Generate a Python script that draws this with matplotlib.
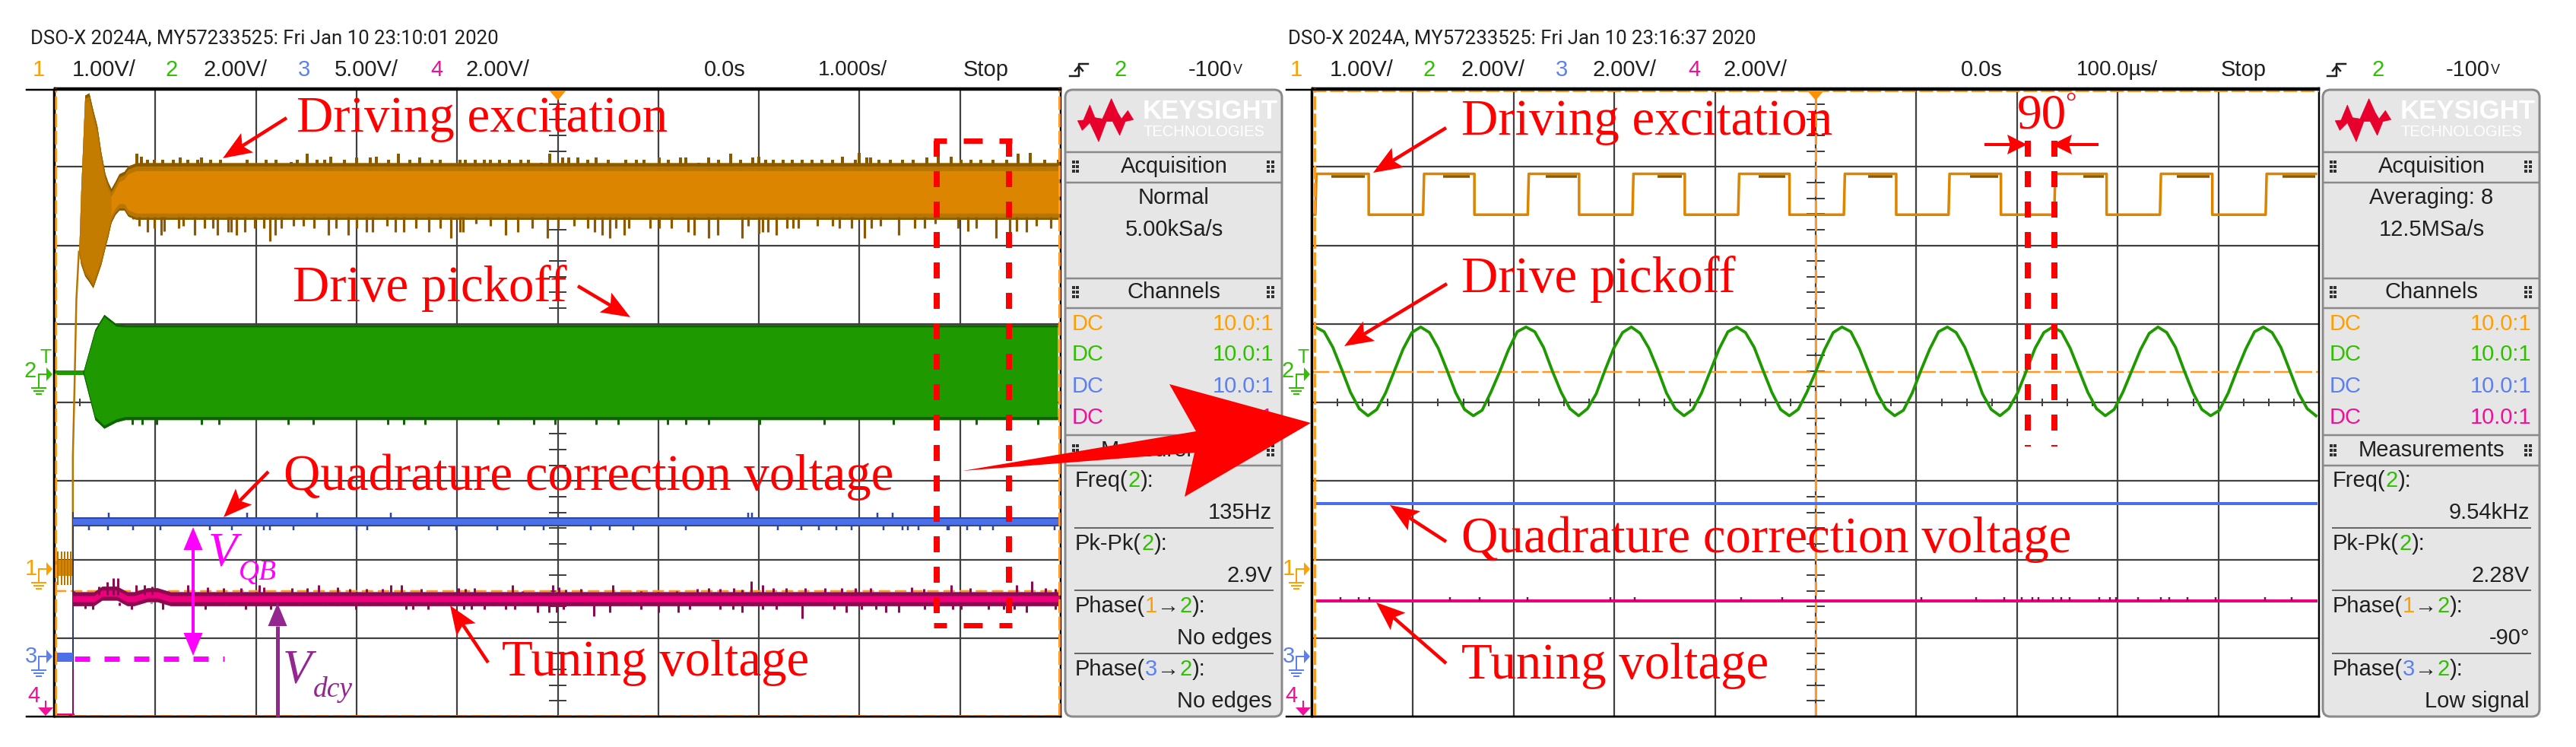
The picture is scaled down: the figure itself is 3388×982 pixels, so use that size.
import numpy as np
import matplotlib

matplotlib.use('Agg')
import matplotlib.pyplot as plt
from matplotlib.patches import FancyBboxPatch, Polygon

# --- left capture: time in s (1 s/div), level in divisions above the bottom edge ---
ch1_env_t = [-4.76, -4.74, -4.70, -4.66, -4.62, -4.58, -4.54, -4.50, -4.47, -4.44, -4.40, -4.36, -4.31, -4.27, -4.19, 0.0, 4.99]
ch1_env_top = [5.92, 6.70, 7.91, 7.94, 7.72, 7.52, 7.18, 6.91, 6.80, 6.72, 6.81, 6.91, 6.94, 7.01, 7.05, 7.05, 7.05]
ch1_env_bot = [5.92, 5.76, 5.61, 5.54, 5.46, 5.61, 5.76, 5.97, 6.12, 6.29, 6.39, 6.45, 6.45, 6.37, 6.33, 6.33, 6.33]
ch1_rise_t = [-4.82, -4.82, -4.805, -4.785, -4.76]
ch1_rise_v = [1.96, 3.31, 4.11, 5.31, 5.92]

ch1_up_t = [-4.18, -4.14, -4.08, -4.01, -3.93, -3.82, -3.75, -3.68, -3.58, -3.54, -3.45, -3.35, -3.09, -2.90, -2.80,
            -2.65, -2.59, -2.49, -2.39, -2.32, -2.26, -2.12, -2.00, -1.86, -1.80, -1.68, -1.58, -1.47, -1.37, -1.25,
            -1.17, -0.97, -0.92, -0.82, -0.73, -0.67, -0.58, -0.48, -0.37, -0.29, -0.16, -0.08, 0.05, 0.11, 0.20,
            0.30, 0.38, 0.50, 0.68, 0.78, 0.86, 1.01, 1.10, 1.22, 1.27, 1.40, 1.50, 1.60, 1.72, 1.82,
            1.94, 2.00, 2.07, 2.14, 2.24, 2.33, 2.43, 2.53, 2.63, 2.73, 2.83, 2.96, 3.00, 3.07, 3.11,
            3.19, 3.31, 3.43, 3.53, 3.67, 3.78, 3.91, 4.01, 4.11, 4.21, 4.33, 4.46, 4.58, 4.70, 4.84, 4.98]
ch1_up_v = [7.17, 7.13, 7.09, 7.09, 7.09, 7.09, 7.12, 7.09, 7.09, 7.12, 7.09, 7.09, 7.09, 7.09, 7.09,
            7.06, 7.09, 7.17, 7.09, 7.09, 7.13, 7.09, 7.12, 7.12, 7.13, 7.09, 7.17, 7.09, 7.12, 7.09,
            7.09, 7.09, 7.09, 7.09, 7.09, 7.09, 7.09, 7.09, 7.09, 7.09, 7.05, 7.17, 7.12, 7.12, 7.12,
            7.09, 7.12, 7.09, 7.09, 7.09, 7.09, 7.12, 7.09, 7.12, 7.12, 7.05, 7.12, 7.09, 7.17, 7.09,
            7.12, 7.13, 7.09, 7.09, 7.09, 7.09, 7.09, 7.09, 7.09, 7.09, 7.13, 7.09, 7.18, 7.12, 7.12,
            7.09, 7.09, 7.09, 7.09, 7.12, 7.17, 7.13, 7.09, 7.09, 7.09, 7.09, 7.09, 7.17, 7.18, 7.09, 7.09]
ch1_down_t = [-4.22, -4.16, -4.08, -4.01, -3.94, -3.91, -3.77, -3.72, -3.61, -3.51, -3.43, -3.38, -3.28, -3.25, -3.19,
              -3.11, -3.01, -2.92, -2.86, -2.81, -2.75, -2.63, -2.53, -2.42, -2.28, -2.20, -2.08, -2.00, -1.90, -1.84,
              -1.70, -1.61, -1.53, -1.41, -1.28, -1.17, -1.06, -0.97, -0.94, -0.81, -0.67, -0.52, -0.40, -0.25, -0.10,
              0.00, 0.16, 0.30, 0.37, 0.44, 0.52, 0.58, 0.66, 0.71, 0.92, 1.01, 1.13, 1.30, 1.36, 1.50,
              1.59, 1.83, 1.89, 2.00, 2.04, 2.09, 2.17, 2.28, 2.34, 2.39, 2.58, 2.73, 2.80, 2.92, 3.05,
              3.12, 3.21, 3.39, 3.55, 3.65, 3.75, 3.98, 4.08, 4.16, 4.36, 4.49, 4.56, 4.66, 4.76, 4.90]
ch1_down_v = [6.33, 6.25, 6.17, 6.22, 6.13, 6.18, 6.22, 6.25, 6.13, 6.22, 6.22, 6.13, 6.17, 6.17, 6.13,
              6.17, 6.22, 6.22, 6.05, 6.13, 6.22, 6.25, 6.25, 6.22, 6.13, 6.22, 6.13, 6.22, 6.17, 6.17,
              6.25, 6.17, 6.17, 6.22, 6.17, 6.22, 6.09, 6.17, 6.17, 6.28, 6.25, 6.13, 6.17, 6.22, 6.09,
              6.22, 6.25, 6.22, 6.17, 6.13, 6.09, 6.22, 6.13, 6.22, 6.22, 6.22, 6.22, 6.17, 6.13, 6.09,
              6.13, 6.09, 6.25, 6.15, 6.17, 6.17, 6.13, 6.22, 6.22, 6.22, 6.25, 6.25, 6.22, 6.22, 6.09,
              6.22, 6.25, 6.13, 6.22, 6.22, 6.28, 6.22, 6.18, 6.22, 6.09, 6.05, 6.18, 6.17, 6.25, 6.22]

ch2_env_t = [-4.72, -4.60, -4.51, -4.39, -4.30, 4.97]
ch2_env_top = [4.38, 4.93, 5.12, 5.00, 4.99, 4.99]
ch2_env_bot = [4.38, 3.78, 3.67, 3.75, 3.78, 3.78]
ch2_down_t = [-4.23, -4.13, -3.99, -3.54, -3.37, -2.68, -2.43, -1.69, -1.53, -1.32, -0.59, -0.24, -0.03, 0.38, 0.60,
              1.09, 1.27, 1.50, 2.01, 2.65, 3.34, 4.16, 4.49, 4.77]

ch3_level = 2.48
ch3_down_t = [-4.66, -4.47, -4.22, -3.95, -3.46, -3.24, -2.92, -2.86, -2.63, -2.00, -1.89, -1.28, -1.01, -0.60, -0.33,
              -0.14, 0.33, 0.52, 0.75, 1.27, 2.19, 2.42, 2.60, 2.77, 2.92, 3.24, 3.43, 3.48, 3.59, 3.87,
              3.89, 4.07, 4.20, 4.33, 4.94]
ch3_up_t = [-4.46, -3.09, -2.39, -1.66, 1.89, 1.93, 3.18, 3.33]

ch4_mid_t = [-4.82, -4.61, -4.53, -4.38, -4.28, -4.21, -4.08, -3.98, -3.85, 4.99]
ch4_mid_v = [1.50, 1.50, 1.57, 1.57, 1.50, 1.50, 1.55, 1.55, 1.50, 1.50]
ch4_up_t = [-4.81, -4.56, -4.48, -4.42, -4.37, -4.19, -4.11, -4.03, -3.68, -3.48, -3.32, -3.15, -2.97, -2.92, -2.64,
            -2.49, -2.38, -2.19, -2.07, -1.90, -1.74, -1.66, -1.55, -1.36, -0.99, -0.92, -0.83, -0.45, -0.35, -0.05,
            0.01, 0.08, 0.23, 0.55, 0.83, 1.18, 1.39, 1.50, 1.61, 1.75, 1.83, 1.92, 2.04, 2.14, 2.27,
            2.46, 2.66, 2.82, 2.96, 3.11, 3.52, 3.64, 3.91, 4.10, 4.56, 4.71, 4.85, 4.95]
ch4_up_v = [1.60, 1.66, 1.71, 1.76, 1.76, 1.68, 1.68, 1.66, 1.68, 1.65, 1.64, 1.64, 1.68, 1.65, 1.64,
            1.64, 1.68, 1.65, 1.63, 1.63, 1.63, 1.68, 1.68, 1.63, 1.64, 1.63, 1.64, 1.68, 1.60, 1.68,
            1.65, 1.62, 1.63, 1.68, 1.60, 1.60, 1.63, 1.64, 1.63, 1.64, 1.62, 1.72, 1.68, 1.64, 1.64,
            1.64, 1.64, 1.64, 1.64, 1.64, 1.65, 1.63, 1.68, 1.64, 1.68, 1.72, 1.64, 1.63]
ch4_down_t = [-4.80, -4.70, -4.62, -4.36, -4.24, -4.04, -3.93, -3.55, -3.50, -3.26, -3.10, -2.85, -2.78, -2.54, -2.32,
              -2.19, -2.01, -1.86, -1.72, -1.51, -1.44, -1.29, -1.06, -0.93, -0.86, -0.73, -0.64, -0.52, -0.43, -0.20,
              -0.09, -0.01, 0.06, 0.36, 0.52, 0.73, 0.83, 1.00, 1.20, 1.31, 1.61, 1.74, 1.83, 1.93, 2.04,
              2.17, 2.43, 2.75, 2.87, 3.02, 3.16, 3.26, 3.39, 3.65, 3.93, 4.01, 4.28, 4.43, 4.54, 4.66, 4.95]
ch4_down_v = [1.41, 1.38, 1.37, 1.41, 1.37, 1.44, 1.37, 1.41, 1.37, 1.41, 1.37, 1.37, 1.41, 1.41, 1.41,
              1.41, 1.37, 1.41, 1.41, 1.37, 1.37, 1.37, 1.41, 1.37, 1.37, 1.37, 1.41, 1.37, 1.37, 1.33,
              1.33, 1.33, 1.37, 1.28, 1.33, 1.41, 1.37, 1.33, 1.33, 1.37, 1.37, 1.37, 1.33, 1.41, 1.37,
              1.37, 1.25, 1.37, 1.33, 1.37, 1.37, 1.33, 1.33, 1.37, 1.37, 1.37, 1.37, 1.37, 1.37, 1.33, 1.37]

# --- right capture: time in microseconds (100 us/div) ---
sq_rise_us = [-497, -390, -286, -182, -77, 28, 132, 237, 342, 447]
sq_fall_us = [-444, -339, -235, -130, -26, 80, 184, 289, 394, 497]
sq_high, sq_low = 6.91, 6.39
sq_noise_from = [-481, -370, -268, -157, -57, 52, 153, 266, 359, 464]
sq_noise_to = [-448, -344, -237, -133, -30, 76, 181, 286, 391, 496]

sine_v = [4.96, 4.90, 4.70, 4.42, 4.13, 3.92, 3.83, 3.91, 4.12, 4.40, 4.68, 4.89,
          4.96, 4.89, 4.69, 4.41, 4.12, 3.91, 3.83, 3.90, 4.13, 4.39, 4.67, 4.90,
          4.96, 4.90, 4.70, 4.40, 4.13, 3.92, 3.83, 3.92, 4.11, 4.41, 4.69, 4.89,
          4.96, 4.88, 4.69, 4.42, 4.12, 3.92, 3.83, 3.91, 4.12, 4.40, 4.68, 4.90,
          4.96, 4.89, 4.70, 4.41, 4.13, 3.91, 3.83, 3.91, 4.13, 4.39, 4.67, 4.89,
          4.96, 4.90, 4.68, 4.40, 4.12, 3.92, 3.83, 3.90, 4.12, 4.41, 4.68, 4.90,
          4.96, 4.89, 4.70, 4.42, 4.11, 3.91, 3.83, 3.92, 4.12, 4.40, 4.69, 4.89,
          4.96, 4.90, 4.69, 4.41, 4.13, 3.92, 3.83, 3.91, 4.13, 4.40, 4.67, 4.88,
          4.96, 4.89, 4.70, 4.40, 4.12, 3.91, 3.83, 3.90, 4.12, 4.41, 4.68, 4.90,
          4.96, 4.89, 4.70, 4.41, 4.12, 3.92, 3.83]
blue_level_r = 2.71
pink_level_r = 1.47
pink_tick_us = [-472, -454, -443, -363, -334, -286, -204, -180, -74, -33, 105, 159, 187, 205, 215, 221, 236, 244,
                252, 282, 292, 298, 320, 343, 351, 369, 397, 446, 473]

# --- text of the screen ---
channel_scales_l = ['1.00V/', '2.00V/', '5.00V/', '2.00V/']
channel_scales_r = ['1.00V/', '2.00V/', '2.00V/', '2.00V/']

ORANGE = '#DB8500'
ORANGE_DK = '#8A5A00'
ORANGE_MID = '#B87600'
ORANGE_LINE = '#FF9A1E'
GREEN = '#1E9A00'
GREEN_DK = '#0E6400'
BLUE = '#4A6FE8'
BLUE_DK = '#2F4796'
PINK = '#EC007C'
PINK_DK = '#8E0A50'
GRID = '#404040'
C1, C2, C3, C4 = '#FF9F00', '#2FC000', '#5C80F0', '#F0109A'
PANEL = '#E6E6E6'
RED = '#FF0000'
SANS = ['Liberation Sans', 'DejaVu Sans']
NARROW = ['Roboto', 'Liberation Sans', 'DejaVu Sans']
SERIF = ['Liberation Serif', 'DejaVu Serif']

W, H = 3388, 982
fig = plt.figure(figsize=(W / 100, H / 100), dpi=100, facecolor='white')


def px(v):
    # line widths are read in pixels
    return v * 0.72


def scope_axes(left, right, xlim):
    ax = fig.add_axes([left / W, 1 - 942 / H, (right - left) / W, 826 / H])
    ax.set_xlim(*xlim)
    ax.set_ylim(0, 8)
    ax.set_xticks([])
    ax.set_yticks([])
    for s in ax.spines.values():
        s.set_linewidth(px(2.5))
        s.set_color('black')
    # division grid with the ticks on the two centre lines
    x0, x1 = xlim
    d = (x1 - x0) / 10
    for i in range(1, 10):
        ax.axvline(x0 + i * d, color=GRID, lw=px(2.2), zorder=1)
    for j in range(1, 8):
        ax.axhline(j, color=GRID, lw=px(2.2), zorder=1)
    xt = x0 + np.arange(0, 41) * d / 4
    ax.vlines(xt, 4 - 0.05, 4 + 0.05, color=GRID, lw=px(2), zorder=1)
    yt = np.arange(0, 41) * 0.2
    ax.hlines(yt, -0.09 * d, 0.09 * d, color=GRID, lw=px(2), zorder=1)
    return ax


# ------ left screen ------
axl = scope_axes(72, 1395, (-5, 5))
axl.fill_between(ch1_env_t, ch1_env_bot, ch1_env_top, color=ORANGE, lw=0, zorder=3)
# the start-up burst is drawn darker than the settled band
axl.fill_between(ch1_env_t[:10], ch1_env_bot[:10], ch1_env_top[:10], color='#C47C00', lw=0, zorder=3)
axl.fill_between(ch1_env_t, np.array(ch1_env_top) - 0.10, ch1_env_top, color=ORANGE_MID, lw=0, zorder=3)
axl.fill_between(ch1_env_t, np.array(ch1_env_top) - 0.04, ch1_env_top, color=ORANGE_DK, lw=0, zorder=3)
axl.fill_between(ch1_env_t, ch1_env_bot, np.array(ch1_env_bot) + 0.08, color=ORANGE_MID, lw=0, zorder=3)
axl.fill_between(ch1_env_t, ch1_env_bot, np.array(ch1_env_bot) + 0.025, color=ORANGE_DK, lw=0, zorder=3)
axl.vlines(ch1_up_t, 7.0, ch1_up_v, color=ORANGE_DK, lw=px(4), zorder=3)
axl.vlines(ch1_down_t, ch1_down_v, 6.36, color=ORANGE_DK, lw=px(3.2), zorder=3)
axl.plot(ch1_rise_t, ch1_rise_v, color=ORANGE_MID, lw=px(2.5), zorder=3)
axl.fill_between([-5, -4.82], 1.79, 2.00, color=ORANGE, lw=0, zorder=3)
axl.vlines([-4.97, -4.93, -4.90, -4.87, -4.84], 1.68, 2.10, color=ORANGE_MID, lw=px(2), zorder=3)

axl.plot([-5, -4.72], [4.38, 4.38], color=GREEN, lw=px(6), zorder=3)
axl.fill_between(ch2_env_t, ch2_env_bot, ch2_env_top, color=GREEN, lw=0, zorder=3)
axl.fill_between(ch2_env_t, np.array(ch2_env_top) - 0.03, ch2_env_top, color=GREEN_DK, lw=0, zorder=3)
axl.fill_between(ch2_env_t, ch2_env_bot, np.array(ch2_env_bot) + 0.04, color=GREEN_DK, lw=0, zorder=3)
axl.vlines(ch2_down_t, 3.72, 3.80, color=GREEN_DK, lw=px(3), zorder=3)

axl.axhline(1.60, xmin=0.0, color=ORANGE_LINE, lw=px(2.5), ls=(0, (6, 2.5)), zorder=2)
axl.plot([-4.82, -4.82], [0.02, 2.60], color='#2A3A70', lw=px(2), zorder=3)
axl.plot([-4.82, -4.82], [0.02, 0.60], color=PINK_DK, lw=px(2), zorder=3)
axl.plot([-5, -4.82], [0.76, 0.76], color=BLUE, lw=px(12), solid_capstyle='butt', zorder=3)
axl.plot([-5, -4.82], [0.03, 0.03], color=PINK, lw=px(3), zorder=3)

axl.fill_between([-4.82, 4.99], ch3_level - 0.06, ch3_level + 0.06, color=BLUE_DK, lw=0, zorder=3)
axl.fill_between([-4.82, 4.99], ch3_level - 0.035, ch3_level + 0.035, color=BLUE, lw=0, zorder=3)
axl.vlines(ch3_down_t, 2.375, 2.43, color=BLUE_DK, lw=px(2.5), zorder=3)
axl.vlines(ch3_up_t, 2.53, 2.60, color=BLUE_DK, lw=px(2.5), zorder=3)

m = np.array(ch4_mid_v)
axl.fill_between(ch4_mid_t, m - 0.09, m + 0.09, color=PINK_DK, lw=0, zorder=3)
axl.fill_between(ch4_mid_t, m - 0.04, m + 0.04, color=PINK, lw=0, zorder=3)
axl.vlines(ch4_up_t, 1.55, ch4_up_v, color=PINK_DK, lw=px(3), zorder=3)
axl.vlines(ch4_down_t, ch4_down_v, 1.45, color=PINK_DK, lw=px(3), zorder=3)

dash = (0, (6, 1.6))
axl.axvline(-4.995, color=ORANGE_LINE, lw=px(3), ls=dash, zorder=4)
axl.axvline(4.985, color=ORANGE_LINE, lw=px(3), ls=dash, zorder=4)
axl.axhline(0.012, color=ORANGE_LINE, lw=px(3), ls=dash, zorder=4)

# ------ right screen ------
axr = scope_axes(1726, 3050, (-500, 500))
axr.axhline(4.39, color=ORANGE_LINE, lw=px(2.5), ls=(0, (9, 2)), zorder=2)
axr.axvline(0, color=ORANGE_LINE, lw=px(3), ls=dash, zorder=2)
axr.axvline(-498, color=ORANGE_LINE, lw=px(3), ls=dash, zorder=4)
axr.axhline(7.97, color=ORANGE_LINE, lw=px(3), ls=dash, zorder=4)

sq_t = [-498]
sq_v = [sq_low]
for r, f in zip(sq_rise_us, sq_fall_us):
    sq_t += [r, r + 1, f, f]
    sq_v += [sq_low, sq_high, sq_high, sq_low]
sq_v[-1] = sq_high
axr.plot(sq_t, sq_v, color=ORANGE, lw=px(3.5), zorder=3)
axr.hlines([sq_high - 0.03] * len(sq_noise_from), sq_noise_from, sq_noise_to, color=ORANGE_DK, lw=px(3.5), zorder=3)

sine_t = np.linspace(-497, 497, len(sine_v))
axr.plot(sine_t, sine_v, color=GREEN, lw=px(3.8), zorder=3)
axr.plot([-497, 497], [blue_level_r, blue_level_r], color=BLUE, lw=px(4), zorder=3)
axr.plot([-497, 497], [pink_level_r, pink_level_r], color=PINK, lw=px(4), zorder=3)
axr.vlines(pink_tick_us, pink_level_r, pink_level_r + 0.055, color=PINK_DK, lw=px(2.5), zorder=3)

# ------ overlay in picture pixels: labels, panels, annotations ------
ov = fig.add_axes([0, 0, 1, 1], zorder=10)
ov.set_xlim(0, W)
ov.set_ylim(H, 0)
ov.axis('off')
ov.patch.set_alpha(0)


def txt(x, y, s, size=21, color='#202020', family=SANS, ha='left', va='center', **kw):
    return ov.text(x, y, s, fontsize=size, color=color, family=family, ha=ha, va=va, **kw)


def parts(x, y, items, size=21):
    # one line in several colours, each piece starts where the last one ended
    r = fig.canvas.get_renderer()
    for s, c in items:
        t = txt(x, y, s, size=size, color=c)
        x = ov.transData.inverted().transform(t.get_window_extent(r).get_points())[1][0]


def arrow(tail, tip, color=RED, lw=4.5, head=38, wide=30, notch=0.8, z=12):
    tail = np.array(tail, float)
    tip = np.array(tip, float)
    u = (tip - tail) / np.hypot(*(tip - tail))
    n = np.array([-u[1], u[0]])
    ov.plot([tail[0], (tip - u * head * notch)[0]], [tail[1], (tip - u * head * notch)[1]],
            color=color, lw=px(lw), solid_capstyle='butt', zorder=z)
    ov.add_patch(Polygon([tip, tip - u * head + n * wide / 2, tip - u * head * notch,
                          tip - u * head - n * wide / 2], closed=True, fc=color, ec='none', zorder=z))


def dashed(x0, y0, x1, y1, on, off, lw=8, color=RED):
    ov.plot([x0, x1], [y0, y1], color=color, lw=px(lw), ls=(0, (on / lw, off / lw)),
            dash_capstyle='butt', zorder=12)


def markers(dx):
    txt(40 + dx, 488, '2', size=21, color=C2, ha='center')
    txt(60 + dx, 470, 'T', size=18, color=C2, ha='center')
    for c, yy in [(C2, 492), (C1, 748), (C3, 863)]:
        ov.plot([51 + dx, 51 + dx], [yy, yy + 17], color=c, lw=px(2))
        ov.plot([51 + dx, 62 + dx], [yy, yy], color=c, lw=px(2))
        for k, w in enumerate([9, 6, 3]):
            ov.plot([51 + dx - w, 51 + dx + w], [yy + 18 + k * 4] * 2, color=c, lw=px(2))
        ov.add_patch(Polygon([(69 + dx, yy), (61 + dx, yy - 9), (61 + dx, yy + 9)], closed=True, fc=c, ec='none'))
    txt(41 + dx, 748, '1', size=21, color=C1, ha='center')
    txt(41 + dx, 863, '3', size=21, color=C3, ha='center')
    txt(44 + dx, 915, '4', size=21, color=C4, ha='center')
    ov.plot([60 + dx, 60 + dx], [922, 932], color=C4, lw=px(2))
    ov.add_patch(Polygon([(60 + dx, 941), (50 + dx, 930), (70 + dx, 930)], closed=True, fc=C4, ec='none'))
    ov.plot([70.5 + dx, 70.5 + dx], [118, 942], color='black', lw=px(2.5))


def header(dx, stamp, scales, base, scale_text, xs):
    txt(40 + dx, 50, stamp, size=18.5, family=NARROW)
    for i, (c, s) in enumerate(zip([C1, C2, C3, C4], scales)):
        txt(51 + dx + i * 174.5, 92, str(i + 1), color=c, ha='center')
        txt(95 + dx + i * 172.5, 92, s)
    txt(xs[0], 92, base)
    txt(xs[1], 92, scale_text, size=20)
    txt(xs[2], 92, 'Stop')
    tx = xs[3]
    ov.plot([tx - 10, tx + 2, tx + 2, tx + 14], [100, 100, 84, 84], color='#202020', lw=px(2.5))
    ov.plot([tx - 3, tx + 2, tx + 7], [93, 87, 93], color='#202020', lw=px(2.5))
    txt(tx + 57, 92, '2', color=C2, ha='center')
    txt(tx + 146, 92, '-100')
    txt(tx + 205, 92, 'V', size=13)
    # orange trigger mark on the centre line
    ox = xs[4]
    ov.add_patch(Polygon([(ox - 11, 119), (ox + 11, 119), (ox, 132)], closed=True, fc='#FF9000', ec='none', zorder=6))
    # rules run past the screen to the left
    ov.plot([xs[5], xs[6]], [118, 118], color='black', lw=px(2.5))
    ov.plot([xs[5], xs[6]], [942, 942], color='black', lw=px(2.5))


logo_x = [52, 75, 100, 120, 150, 185, 210, 225, 250, 272, 240, 218, 190, 165, 135, 100, 70]
logo_y = [122, 120, 60, 110, 115, 35, 90, 115, 82, 118, 125, 180, 125, 125, 205, 130, 160]


def panel(x0, mode, rate, freq, pkpk, ph12, ph32):
    x1 = x0 + 285
    ov.add_patch(FancyBboxPatch((x0 + 6, 124), 273, 812, boxstyle='round,pad=6,rounding_size=10', mutation_aspect=1,
                                fc=PANEL, ec='#8A8A8A', lw=px(3)))
    ov.add_patch(Polygon([(x0 + (a / 3) - 1, 118 + b / 3) for a, b in zip(logo_x, logo_y)],
                         closed=True, fc='#E8002D', ec='#E8002D', lw=0.5))
    txt(x0 + 102, 146, 'KEYSIGHT', size=25, color='white', weight='bold')
    txt(x0 + 102, 173, 'TECHNOLOGIES', size=14.5, color='white')
    for y in [200, 240, 366, 405, 572, 612]:
        ov.plot([x0 + 1, x1 - 1], [y, y], color='#8A8A8A', lw=px(2.5))
    xc = x0 + 143
    for y, s in [(219, 'Acquisition'), (260, mode), (302, rate), (384, 'Channels'), (592, 'Measurements')]:
        txt(xc, y, s, ha='center')
    for y in [219, 384, 592]:
        ov.scatter([x0 + 11, x0 + 16] * 3 + [x1 - 18, x1 - 12] * 3,
                   [y - 6] * 2 + [y] * 2 + [y + 6] * 2 + [y - 6] * 2 + [y] * 2 + [y + 6] * 2,
                   s=5, marker='s', color='#303030', lw=0)
    for y, c in zip([426, 466, 508, 549], [C1, C2, C3, C4]):
        txt(x0 + 9, y, 'DC', color=c)
        txt(x1 - 11, y, '10.0:1', color=c, ha='right')
    rows = [(632, [('Freq(', '#202020'), ('2', C2), ('):', '#202020')], freq),
            (715, [('Pk-Pk(', '#202020'), ('2', C2), ('):', '#202020')], pkpk),
            (797, [('Phase(', '#202020'), ('1', C1), ('\u2192', '#202020'), ('2', C2), ('):', '#202020')], ph12),
            (880, [('Phase(', '#202020'), ('3', C3), ('\u2192', '#202020'), ('2', C2), ('):', '#202020')], ph32)]
    for y, items, val in rows:
        parts(x0 + 13, y, items)
        txt(x1 - 13, y + 42, val, ha='right')
    for y in [694, 776, 859]:
        ov.plot([x0 + 13, x1 - 12], [y, y], color='#666666', lw=px(2))


fig.canvas.draw()
header(0, 'DSO-X 2024A, MY57233525: Fri Jan 10 23:10:01 2020', channel_scales_l, '0.0s', '1.000s/',
       [926, 1076, 1267, 1417, 733.5, 35, 1395])
header(1654, 'DSO-X 2024A, MY57233525: Fri Jan 10 23:16:37 2020', channel_scales_r, '0.0s', '100.0\u00b5s/',
       [2579, 2731, 2921, 3071, 2388, 1692, 3050])
panel(1401, 'Normal', '5.00kSa/s', '135Hz', '2.9V', 'No edges', 'No edges')
panel(3055, 'Averaging: 8', '12.5MSa/s', '9.54kHz', '2.28V', '-90\u00b0', 'Low signal')
markers(0)
markers(1654)


def red(x, y, s):
    txt(x, y, s, size=48.2, color=RED, family=SERIF, va='baseline', zorder=11)


# left annotations
red(390, 173, 'Driving excitation')
red(385, 396, 'Drive pickoff')
red(373, 644, 'Quadrature correction voltage')
red(660, 888, 'Tuning voltage')
arrow((377, 155), (293, 208))
arrow((760, 376), (829, 417))
arrow((353, 620), (294, 680))
arrow((642, 871), (592, 796))

# right annotations
red(1922, 177, 'Driving excitation')
red(1922, 384, 'Drive pickoff')
red(1922, 726, 'Quadrature correction voltage')
red(1922, 892, 'Tuning voltage')
arrow((1902, 168), (1806, 227))
arrow((1903, 373), (1768, 455))
arrow((1902, 712), (1828, 664))
arrow((1902, 872), (1810, 792))

# measured distances
MAG = '#FF00FF'
PUR = '#93278F'
ov.plot([254, 254], [715, 840], color=MAG, lw=px(4), zorder=11)
arrow((254, 760), (254, 693), color=MAG, lw=4, head=30, wide=25, notch=1)
arrow((254, 800), (254, 862), color=MAG, lw=4, head=30, wide=25, notch=1)
dashed(98, 866, 295, 866, 20, 19, lw=7, color=MAG)
txt(274, 744, 'V', size=45, color=MAG, family=SERIF, style='italic', va='baseline', zorder=11)
txt(314, 762, 'QB', size=27, color=MAG, family=SERIF, style='italic', va='baseline', zorder=11)
arrow((365, 942), (365, 793), color=PUR, lw=5, head=30, wide=25, notch=1)
txt(372, 898, 'V', size=45, color=PUR, family=SERIF, style='italic', va='baseline', zorder=11)
txt(412, 916, 'dcy', size=27, color=PUR, family=SERIF, style='italic', va='baseline', zorder=11)

# dashed selection box and the arrow to the zoomed capture
for x in [1232, 1327]:
    dashed(x, 185, x, 822, 21, 19)
for y in [185, 822]:
    ov.hlines([y] * 3, [1228, 1267, 1314], [1245, 1292, 1331], color=RED, lw=px(7), zorder=12)
ov.add_patch(Polygon([(1266, 619), (1573, 567), (1538, 505), (1724, 556), (1558, 653), (1571, 595)],
                     closed=True, fc=RED, ec='none', zorder=13))

# phase mark on the right capture
for x in [2666.5, 2702]:
    dashed(x, 185, x, 587, 21, 19)
arrow((2610, 190), (2666, 190), lw=4, head=26, wide=26, notch=0.85)
arrow((2760, 190), (2699, 190), lw=4, head=26, wide=26, notch=0.85)
txt(2653, 168, '90', size=47, color=RED, family=SERIF, va='baseline', zorder=11)
txt(2716, 146, '\u00b0', size=26, color=RED, family=SERIF, va='baseline', zorder=11)

fig.savefig('out.png', dpi=100)
